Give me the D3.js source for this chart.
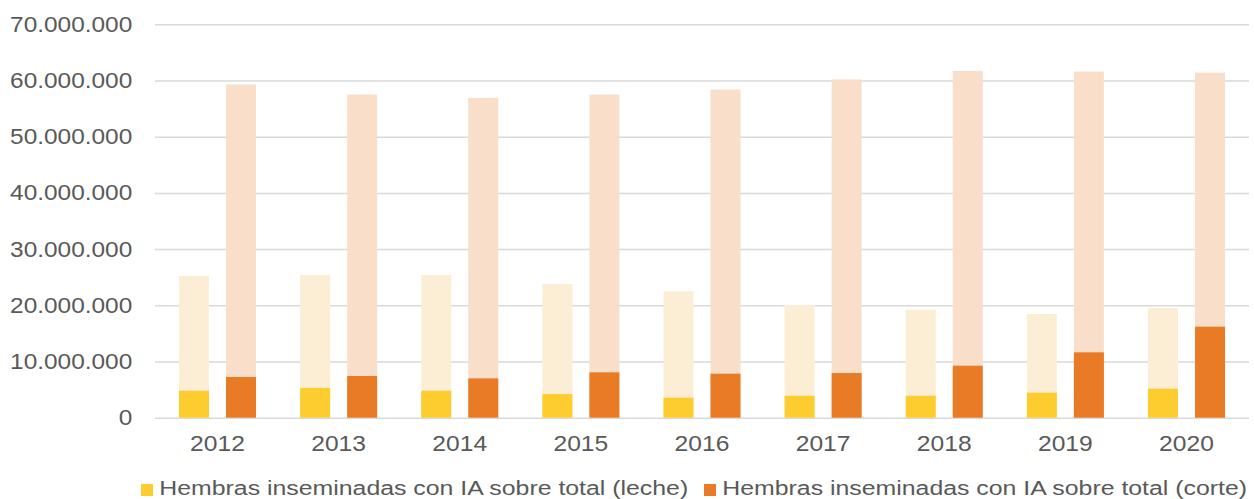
<!DOCTYPE html>
<html>
<head>
<meta charset="utf-8">
<script src="https://cdn.jsdelivr.net/npm/d3@7"></script>
<style>
  body { margin: 0; background: #fff; }
  svg { display: block; font-family: "Liberation Sans", Arial, sans-serif; }
</style>
</head>
<body>
<div id="chart"></div>
<script>
// data
const years = ["2012", "2013", "2014", "2015", "2016", "2017", "2018", "2019", "2020"];
const totalLeche = [25.2e6, 25.4e6, 25.4e6, 23.8e6, 22.5e6, 20.05e6, 19.2e6, 18.45e6, 19.5e6];
const iaLeche    = [4.8e6, 5.3e6, 4.8e6, 4.2e6, 3.56e6, 3.9e6, 3.9e6, 4.45e6, 5.16e6];
const totalCorte = [59.3e6, 57.5e6, 56.9e6, 57.5e6, 58.4e6, 60.2e6, 61.7e6, 61.6e6, 61.4e6];
const iaCorte    = [7.24e6, 7.42e6, 7.0e6, 8.07e6, 7.83e6, 7.95e6, 9.25e6, 11.63e6, 16.2e6];
const yTicks = [0, 10e6, 20e6, 30e6, 40e6, 50e6, 60e6, 70e6];
const legendLabels = [
  "Hembras inseminadas con IA sobre total (leche)",
  "Hembras inseminadas con IA sobre total (corte)"
];

const W = 1254, H = 499;
const margin = {top: 24.3, right: 5, bottom: 81.3, left: 155};
const width = W - margin.left - margin.right,
      height = H - margin.top - margin.bottom;

const colors = {
  leche: {light: "#FCEED5", dark: "#FDCD2F"},
  corte: {light: "#F9DFCA", dark: "#E97B27"}
};
const textColor = "#595959";

const svg = d3.select("#chart").append("svg")
    .attr("width", W)
    .attr("height", H);

const g = svg.append("g")
    .attr("transform", `translate(${margin.left},${margin.top})`);

const fmt = d3.formatLocale({decimal: ",", thousands: ".", grouping: [3], currency: ["", "€"]}).format(",d");

// scales
const x = d3.scaleBand()
    .domain(years)
    .range([0, width])
    .paddingInner(0.364)
    .paddingOuter(0.198);

const xSub = d3.scaleBand()
    .domain(["leche", "corte"])
    .range([0, x.bandwidth()])
    .paddingInner(0.362)
    .paddingOuter(0);

const y = d3.scaleLinear()
    .domain([0, 70e6])
    .range([height, 0]);

// Y axis + gridlines
const yAxis = g.append("g")
    .call(d3.axisLeft(y).tickValues(yTicks).tickFormat(fmt).tickSize(-width).tickPadding(20.5));
yAxis.select(".domain").remove();
yAxis.selectAll(".tick line")
    .attr("stroke", "#D9D9D9")
    .attr("stroke-width", 1.5);
yAxis.selectAll(".tick text")
    .attr("fill", textColor)
    .style("font-size", "22px")
    .attr("transform", "scale(1.11,1)");

// bars
const rows = years.map((yr, i) => ({
  year: yr,
  series: [
    {key: "leche", total: totalLeche[i], ia: iaLeche[i]},
    {key: "corte", total: totalCorte[i], ia: iaCorte[i]}
  ]
}));

const groups = g.selectAll(".year")
    .data(rows)
    .enter().append("g")
    .attr("class", "year")
    .attr("transform", d => `translate(${x(d.year)},0)`);

groups.selectAll(".total")
    .data(d => d.series)
    .enter().append("rect")
    .attr("class", "total")
    .attr("x", d => xSub(d.key))
    .attr("width", xSub.bandwidth())
    .attr("y", d => y(d.total))
    .attr("height", d => y(0) - y(d.total))
    .attr("fill", d => colors[d.key].light);

groups.selectAll(".ia")
    .data(d => d.series)
    .enter().append("rect")
    .attr("class", "ia")
    .attr("x", d => xSub(d.key))
    .attr("width", xSub.bandwidth())
    .attr("y", d => y(d.ia))
    .attr("height", d => y(0) - y(d.ia))
    .attr("fill", d => colors[d.key].dark);

// X axis labels
const xAxis = g.append("g")
    .attr("transform", `translate(0,${height})`)
    .call(d3.axisBottom(x).tickSize(0).tickPadding(18));
xAxis.select(".domain").remove();
xAxis.selectAll(".tick text")
    .attr("fill", textColor)
    .style("font-size", "22px")
    .attr("transform", "scale(1.12,1)");

// legend
const legend = svg.append("g").attr("class", "legend");
const legendX = [141, 704];
const keys = ["leche", "corte"];
legendLabels.forEach((lab, i) => {
  const item = legend.append("g").attr("transform", `translate(${legendX[i]},0)`);
  item.append("rect")
      .attr("x", 0).attr("y", 484)
      .attr("width", 12).attr("height", 12)
      .attr("fill", colors[keys[i]].dark);
  item.append("text")
      .attr("transform", "translate(18.3,494.8) scale(1.243,1)")
      .attr("fill", textColor)
      .style("font-size", "20px")
      .text(lab);
});
</script>
</body>
</html>
